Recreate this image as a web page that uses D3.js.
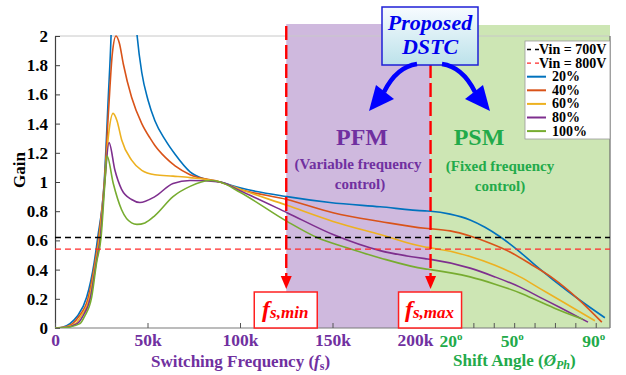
<!DOCTYPE html>
<html>
<head>
<meta charset="utf-8">
<script src="https://cdn.jsdelivr.net/npm/d3@7"></script>
<style>
  body { margin: 0; background: #fff; }
  svg { display: block; }
  text { font-family: "Liberation Serif", "Times New Roman", serif; font-weight: bold; }
</style>
</head>
<body>
<svg id="chart" width="626" height="375"></svg>
<script>
// ---- data ---------------------------------------------------------------
const loadLabels = ["20%", "40%", "60%", "80%", "100%"];
const loadColors = ["#0072BD", "#D95319", "#EDB120", "#7E2F8E", "#77AC30"];

// gain vs switching frequency (kHz), PFM range
const gain20Freq = [[0,0],[4,0.005],[8.1,0.03],[12,0.08],[17.1,0.21],[21.2,0.45],[23.1,0.62],[26.6,1.0],[28.8,1.58],[30.3,2.0],[32,2.8],[35,3.4],[39,3.0],[42,2.4],[44.4,2.0],[46.9,1.75],[50.3,1.56],[54,1.42],[59.5,1.29],[64.9,1.19],[73,1.07],[81,1.02],[89.2,1.0],[100,0.96],[125.4,0.90],[148.6,0.86],[175.7,0.83],[200,0.802]];
const gain40Freq = [[0,0],[5,0.005],[9.5,0.03],[13,0.08],[17.8,0.2],[21.6,0.45],[23.6,0.62],[26.7,1.0],[29,1.5],[31,1.88],[33,2.0],[34.8,1.95],[36.9,1.81],[41.4,1.58],[46.9,1.40],[51.4,1.30],[54,1.25],[59.5,1.17],[64.9,1.11],[73,1.05],[89.2,1.0],[100,0.95],[125.4,0.88],[150.3,0.79],[175.7,0.73],[200,0.683]];
const gain60Freq = [[0,0],[5,0.004],[11,0.03],[14,0.08],[18.5,0.2],[22,0.45],[24,0.62],[26.8,1.0],[29,1.33],[31.4,1.47],[33.5,1.42],[36,1.29],[41.4,1.15],[46.9,1.08],[54,1.05],[63.8,1.04],[73,1.03],[89.2,1.0],[100,0.95],[125.4,0.84],[150.3,0.73],[175.7,0.64],[200,0.555]];
const gain80Freq = [[0,0],[5,0.003],[12,0.03],[15,0.08],[19.2,0.21],[22.3,0.45],[24.5,0.62],[26.9,1.0],[29.2,1.27],[32.4,1.08],[36,0.95],[41.4,0.88],[45.9,0.86],[54,0.90],[63.8,0.99],[73,1.01],[89.2,1.0],[100,0.94],[125.4,0.79],[150.3,0.64],[175.7,0.53],[200,0.475]];
const gain100Freq = [[0,0],[5,0.002],[13.5,0.03],[16,0.08],[19.8,0.21],[22.5,0.45],[24.9,0.62],[27,1.0],[28.1,1.18],[31.5,0.99],[36,0.81],[41.4,0.72],[44.3,0.71],[48.6,0.72],[54,0.77],[63.8,0.90],[73,0.97],[83.8,1.01],[89.2,1.0],[100,0.93],[125.4,0.73],[141.6,0.62],[157.8,0.55],[175.7,0.48],[200,0.405]];

// gain vs phase-shift angle (deg), PSM range
const gain20Angle = [[9,0.80],[18.6,0.78],[28.4,0.74],[35.7,0.69],[43.1,0.625],[52.9,0.52],[60.3,0.43],[69.1,0.33],[82.3,0.19],[94.5,0.07]];
const gain40Angle = [[9,0.68],[18.6,0.665],[28.4,0.63],[38.2,0.58],[48,0.52],[57.8,0.44],[69.1,0.34],[81.3,0.20],[93,0.04]];
const gain60Angle = [[9,0.55],[28.4,0.49],[40.6,0.43],[52.9,0.35],[62.7,0.27],[72.5,0.19],[89.6,0.05]];
const gain80Angle = [[9,0.47],[28.4,0.41],[40.6,0.35],[52.9,0.28],[62.7,0.21],[72.5,0.14],[86.2,0.04]];
const gain100Angle = [[9,0.40],[28.4,0.35],[40.6,0.30],[52.9,0.24],[62.7,0.18],[72.5,0.12],[83.7,0.06]];

const freqSeries = [gain20Freq, gain40Freq, gain60Freq, gain80Freq, gain100Freq];
const angleSeries = [gain20Angle, gain40Angle, gain60Angle, gain80Angle, gain100Angle];

const vinLevels = [0.62, 0.54];
const vinLabels = ["Vin = 700V", "Vin = 800V"];
const vinColors = ["#000000", "#FF2A2A"];

const gainTicks = [0, 0.2, 0.4, 0.6, 0.8, 1, 1.2, 1.4, 1.6, 1.8, 2];
const freqTicks = [0, 50, 100, 150, 200];
const freqTickLabels = ["0", "50k", "100k", "150k", "200k"];
const angleTicks = [20, 30, 40, 50, 60, 70, 80, 90];
const angleLabels = [20, 50, 90];

const fsMin = 125, fsMax = 203;   // kHz

// ---- layout & scales ----------------------------------------------------
const plot = { left: 55, right: 610, top: 36, bottom: 328 };
const purple = "#7030A0", green = "#22AA4A";

const svg = d3.select("#chart");
const y = d3.scaleLinear().domain([0, 2]).range([plot.bottom, plot.top]);
const xF = d3.scaleLinear().domain([0, 200]).range([plot.left, 425]);
const xA = d3.scaleLinear().domain([9, 97]).range([xF(fsMax), plot.right]);

// ---- control regions ----------------------------------------------------
svg.append("rect")
  .attr("x", xF(fsMin)).attr("y", 24)
  .attr("width", xF(fsMax) - xF(fsMin)).attr("height", plot.bottom - 24)
  .attr("fill", "#CFB9DE");
svg.append("rect")
  .attr("x", xF(fsMax)).attr("y", 25)
  .attr("width", plot.right - xF(fsMax)).attr("height", plot.bottom - 25)
  .attr("fill", "#CDE6B4");

// frame lines
svg.append("line").attr("x1", plot.left).attr("x2", plot.right)
  .attr("y1", plot.top).attr("y2", plot.top).attr("stroke", "#c8c8c8").attr("stroke-width", 1);
svg.append("line").attr("x1", plot.right).attr("x2", plot.right)
  .attr("y1", plot.top).attr("y2", plot.bottom).attr("stroke", "#6b6b6b").attr("stroke-width", 1.2);

// ---- axes ---------------------------------------------------------------
const gY = svg.append("g").attr("transform", `translate(${plot.left},0)`)
  .call(d3.axisLeft(y).tickValues(gainTicks).tickSize(-5).tickSizeOuter(0).tickPadding(7)
        .tickFormat(d3.format("~g")));
gY.select(".domain").attr("stroke", "#404040").attr("stroke-width", 1.2);
gY.selectAll(".tick line").attr("stroke", "#404040");
gY.selectAll(".tick text").attr("font-size", 17).attr("fill", "#000");

svg.append("line").attr("x1", plot.left).attr("x2", plot.right)
  .attr("y1", plot.bottom).attr("y2", plot.bottom).attr("stroke", "#7a7a7a").attr("stroke-width", 1.2);

const gX = svg.append("g").attr("transform", `translate(0,${plot.bottom})`)
  .call(d3.axisBottom(xF).tickValues(freqTicks).tickSize(-5).tickSizeOuter(0).tickPadding(6)
        .tickFormat((d, i) => freqTickLabels[i]));
gX.select(".domain").remove();
gX.selectAll(".tick line").attr("stroke", "#555");
gX.selectAll(".tick text").attr("font-size", 17.5).attr("fill", purple);
// last frequency label sits left of its tick, clear of the angle scale
gX.selectAll(".tick text").filter((d, i, n) => i === n.length - 1)
  .attr("text-anchor", "end").attr("x", 8);

const gA = svg.append("g").attr("transform", `translate(0,${plot.bottom})`)
  .call(d3.axisBottom(xA).tickValues(angleTicks).tickSize(-5).tickSizeOuter(0).tickFormat(""));
gA.select(".domain").remove();
gA.selectAll(".tick line").attr("stroke", "#555");

angleLabels.forEach(a => {
  const t = svg.append("text").attr("x", xA(a) - 2).attr("y", 347)
    .attr("text-anchor", "middle").attr("font-size", 17.5).attr("fill", green);
  t.append("tspan").text(a);
  t.append("tspan").attr("font-size", 11).attr("dy", -7).text("o");
});

// axis titles
svg.append("text").attr("transform", "translate(25,170) rotate(-90)")
  .attr("text-anchor", "middle").attr("font-size", 17).attr("fill", "#000").text("Gain");

const xt = svg.append("text").attr("x", 151).attr("y", 367).attr("font-size", 17).attr("fill", purple);
xt.append("tspan").text("Switching Frequency (");
xt.append("tspan").attr("font-style", "italic").text("f");
xt.append("tspan").attr("font-size", 12).attr("dy", 3).text("s");
xt.append("tspan").attr("dy", -3).text(")");

const at = svg.append("text").attr("x", 453).attr("y", 366).attr("font-size", 17).attr("fill", green);
at.append("tspan").text("Shift Angle (");
at.append("tspan").attr("font-style", "italic").text("Ø");
at.append("tspan").attr("font-style", "italic").attr("font-size", 12).attr("dy", 3).text("Ph");
at.append("tspan").attr("dy", -3).text(")");

// ---- curves -------------------------------------------------------------
svg.append("clipPath").attr("id", "plotClip").append("rect")
  .attr("x", plot.left).attr("y", plot.top - 1)
  .attr("width", plot.right - plot.left).attr("height", plot.bottom - plot.top + 1);

const line = d3.line().curve(d3.curveMonotoneX);
const curves = svg.append("g").attr("clip-path", "url(#plotClip)");
loadLabels.forEach((lbl, i) => {
  const pts = freqSeries[i].map(([f, g]) => [xF(f), y(g)])
    .concat(angleSeries[i].map(([a, g]) => [xA(a), y(g)]));
  curves.append("path").attr("d", line(pts))
    .attr("fill", "none").attr("stroke", loadColors[i]).attr("stroke-width", 1.6);
});

// input-voltage reference gains
vinLevels.forEach((v, i) => {
  svg.append("line").attr("x1", plot.left).attr("x2", plot.right)
    .attr("y1", y(v)).attr("y2", y(v))
    .attr("stroke", vinColors[i]).attr("stroke-width", 1.3).attr("stroke-dasharray", "6,4");
});

// ---- frequency limits ---------------------------------------------------
const limits = [
  { f: fsMin, sub: "s,min" },
  { f: fsMax, sub: "s,max" }
];
limits.forEach(l => {
  const x = xF(l.f);
  svg.append("line").attr("x1", x).attr("x2", x).attr("y1", 26).attr("y2", 278)
    .attr("stroke", "#FF0000").attr("stroke-width", 2.4).attr("stroke-dasharray", "14,5");
  svg.append("path")
    .attr("d", `M${x - 5.5},276 L${x + 5.5},276 L${x},289 Z`).attr("fill", "#FF0000");
  svg.append("rect").attr("x", x - 32).attr("y", 292).attr("width", 63).attr("height", 36)
    .attr("fill", "#fff").attr("stroke", "#FF2020").attr("stroke-width", 1.5);
  const t = svg.append("text").attr("x", x - 1).attr("y", 317).attr("text-anchor", "middle")
    .attr("fill", "#FF0000").attr("font-style", "italic");
  t.append("tspan").attr("font-size", 24).text("f");
  t.append("tspan").attr("font-size", 17).attr("dy", 1).text(l.sub);
});

// ---- region annotations -------------------------------------------------
svg.append("text").attr("x", 362).attr("y", 145).attr("text-anchor", "middle")
  .attr("font-size", 24).attr("fill", purple).text("PFM");
svg.append("text").attr("x", 358).attr("y", 169).attr("text-anchor", "middle")
  .attr("font-size", 15).attr("fill", purple).text("(Variable frequency");
svg.append("text").attr("x", 360).attr("y", 189).attr("text-anchor", "middle")
  .attr("font-size", 15).attr("fill", purple).text("control)");

svg.append("text").attr("x", 479).attr("y", 145).attr("text-anchor", "middle")
  .attr("font-size", 24).attr("fill", green).text("PSM");
svg.append("text").attr("x", 500).attr("y", 171).attr("text-anchor", "middle")
  .attr("font-size", 15).attr("fill", green).text("(Fixed frequency");
svg.append("text").attr("x", 500).attr("y", 191).attr("text-anchor", "middle")
  .attr("font-size", 15).attr("fill", green).text("control)");

// ---- legend -------------------------------------------------------------
const lg = svg.append("g");
lg.append("rect").attr("x", 525).attr("y", 41).attr("width", 85).attr("height", 98)
  .attr("fill", "#fff").attr("stroke", "#9a9a9a").attr("stroke-width", 0.8);
const rowY = i => 49.5 + i * 13.6;
vinLabels.forEach((lbl, i) => {
  lg.append("line").attr("x1", 527).attr("x2", 539).attr("y1", rowY(i)).attr("y2", rowY(i))
    .attr("stroke", vinColors[i]).attr("stroke-width", 1.3).attr("stroke-dasharray", "4,4");
  lg.append("text").attr("x", 539).attr("y", rowY(i) + 4.5).attr("font-size", 14)
    .attr("fill", "#000").text(lbl);
});
loadLabels.forEach((lbl, i) => {
  const yy = rowY(i + 2);
  lg.append("line").attr("x1", 527).attr("x2", 546).attr("y1", yy).attr("y2", yy)
    .attr("stroke", loadColors[i]).attr("stroke-width", 2);
  lg.append("text").attr("x", 552).attr("y", yy + 4.5).attr("font-size", 14)
    .attr("fill", "#000").text(lbl);
});

// ---- proposed DSTC callout ----------------------------------------------
const defs = svg.append("defs");
const grad = defs.append("linearGradient").attr("id", "dstcFill")
  .attr("x1", 0).attr("y1", 0).attr("x2", 0).attr("y2", 1);
grad.append("stop").attr("offset", "0%").attr("stop-color", "#F7FBFF");
grad.append("stop").attr("offset", "100%").attr("stop-color", "#BCE2EA");

svg.append("rect").attr("x", 382).attr("y", 7).attr("width", 96).attr("height", 58)
  .attr("fill", "url(#dstcFill)").attr("stroke", "#1f1fd6").attr("stroke-width", 1.5);
svg.append("text").attr("x", 430).attr("y", 30).attr("text-anchor", "middle")
  .attr("font-size", 22).attr("font-style", "italic").attr("fill", "#0000EE").text("Proposed");
svg.append("text").attr("x", 430).attr("y", 54).attr("text-anchor", "middle")
  .attr("font-size", 22).attr("font-style", "italic").attr("fill", "#0000EE").text("DSTC");

const arrowBlue = "#0000FF";
svg.append("path").attr("d", "M417,64 C402,66 391,78 384,92")
  .attr("fill", "none").attr("stroke", arrowBlue).attr("stroke-width", 4.5);
svg.append("path").attr("d", "M369,111 L376,85 L394,99 Z").attr("fill", arrowBlue);
svg.append("path").attr("d", "M442,64 C457,66 468,78 475,92")
  .attr("fill", "none").attr("stroke", arrowBlue).attr("stroke-width", 4.5);
svg.append("path").attr("d", "M490,111 L483,85 L465,99 Z").attr("fill", arrowBlue);
</script>
</body>
</html>
